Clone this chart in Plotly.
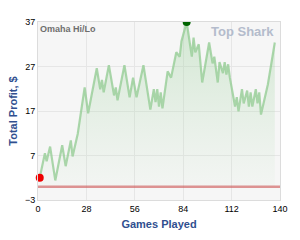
import plotly.graph_objects as go

games = [1, 4, 5, 7, 10, 14, 16, 19, 20, 23, 27, 29, 34, 36, 37, 38, 41, 44, 45, 46,
         50, 53, 55, 57, 61, 65, 67, 68, 69, 70, 71, 72, 75, 77, 80, 82, 83, 86, 89, 90,
         91, 93, 95, 97, 99, 101, 102, 104, 105, 107, 108, 109, 110, 111, 114, 115, 116,
         118, 119, 121, 122, 123, 124, 126, 127, 128, 129, 133, 135, 137]
profit = [2, 7.5, 5.7, 9, 1.4, 9.3, 4.6, 10.4, 6.8, 11.9, 22.3, 16.5, 26.6, 21.9, 24, 21.2, 27.3, 20.5, 22.3, 19.4,
          27.3, 20.1, 24.5, 20.1, 27.3, 17.3, 21.9, 19, 21.9, 18, 21.2, 17.6, 25.9, 24.5, 30.2, 29.2, 32.7, 37, 29.2, 33.5,
          30.2, 32, 23.4, 27.7, 32.4, 27.7, 29.2, 23.4, 28, 25.5, 28, 25.2, 27.5, 24.5, 18, 20.1, 16.9,
          21.9, 18.7, 21.6, 18, 21.2, 18, 21.9, 18.7, 21.2, 16.2, 23, 28, 32.4]
x_ticks = [0, 28, 56, 84, 112, 140]
y_ticks = [-3, 7, 17, 27, 37]
baseline = 0

imax = profit.index(max(profit))

font_family = "Liberation Sans, Arial, sans-serif"

fig = go.Figure()
fig.add_trace(go.Scatter(
    x=games, y=profit, mode="lines", fill="tozeroy",
    line=dict(color="rgba(150,205,150,0.8)", width=2.2),
    fillgradient=dict(type="vertical",
                      colorscale=[[0, "rgba(180,220,180,0.05)"], [1, "rgba(160,210,160,0.42)"]]),
    hoverinfo="skip", showlegend=False,
))
fig.add_trace(go.Scatter(
    x=[games[0]], y=[profit[0]], mode="markers",
    marker=dict(color="#ee0000", size=8), showlegend=False, cliponaxis=False,
))
fig.add_trace(go.Scatter(
    x=[games[imax]], y=[profit[imax]], mode="markers",
    marker=dict(color="#006400", size=8), showlegend=False, cliponaxis=True,
))

fig.add_shape(type="line", xref="paper", yref="y", x0=0, x1=1, y0=baseline, y1=baseline,
              line=dict(color="rgba(205,80,80,0.6)", width=2.5))

fig.add_annotation(text="<b>Omaha Hi/Lo</b>", xref="paper", yref="paper", x=0, y=1,
                   xanchor="left", yanchor="top", xshift=0, yshift=0, showarrow=False,
                   font=dict(family=font_family, size=9, color="#6e6e6e"))
fig.add_annotation(text="<b>Top Shark</b>", xref="paper", yref="paper", x=1, y=1,
                   xanchor="right", yanchor="top", xshift=-4, yshift=0, showarrow=False,
                   font=dict(family=font_family, size=13, color="#b4bccc"))

fig.update_layout(
    width=300, height=240,
    margin=dict(l=35, r=12, t=22, b=33),
    paper_bgcolor="white", plot_bgcolor="#f6f6f6",
    font=dict(family=font_family, size=9, color="black"),
    xaxis=dict(range=[0, 140], tickvals=x_ticks, showgrid=True, gridcolor="#e6e6e6",
               zeroline=False, showline=True, linecolor="#dcdcdc", mirror=True,
               ticks="", ticklen=0,
               title=dict(text="<b>Games Played</b>", standoff=7,
                          font=dict(family=font_family, size=11, color="#304f8f"))),
    yaxis=dict(range=[-3, 37], tickvals=y_ticks, showgrid=True, gridcolor="#e6e6e6",
               zeroline=False, showline=True, linecolor="#dcdcdc", mirror=True,
               ticks="", ticklen=0,
               title=dict(text="<b>Total Profit, $</b>", standoff=5,
                          font=dict(family=font_family, size=11, color="#304f8f"))),
)

fig.write_html("out.html")
